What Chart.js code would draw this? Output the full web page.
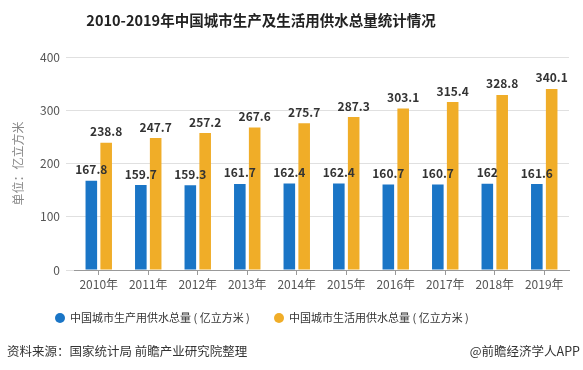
<!DOCTYPE html>
<html>
<head>
<meta charset="utf-8">
<script src="https://cdn.jsdelivr.net/npm/chart.js@4.4.1/dist/chart.umd.min.js"></script>
<style>
  html, body { margin: 0; padding: 0; background: #fff; }
  #wrap { width: 583px; height: 370px; position: relative; }
</style>
</head>
<body>
<div id="wrap"><canvas id="c" width="583" height="370"></canvas></div>
<script>
const years = ["2010年", "2011年", "2012年", "2013年", "2014年", "2015年", "2016年", "2017年", "2018年", "2019年"]
const production = [167.8, 159.7, 159.3, 161.7, 162.4, 162.4, 160.7, 160.7, 162, 161.6]
const domestic = [238.8, 247.7, 257.2, 267.6, 275.7, 287.3, 303.1, 315.4, 328.8, 340.1]
const yTicks = [0, 100, 200, 300, 400]

const seriesNames = ["中国城市生产用供水总量 ( 亿立方米 )", "中国城市生活用供水总量 ( 亿立方米 )"]
const colors = ["#1a75c6", "#f0ad28"]
const cjk = "'Noto Sans CJK SC', 'Noto Sans', sans-serif"

const extras = {
  id: "extras",
  afterDatasetsDraw(chart) {
    const ctx = chart.ctx
    ctx.save()
    // value labels above bars
    ctx.font = "bold 12px " + cjk
    ctx.fillStyle = "#333"
    ctx.textAlign = "center"
    ctx.textBaseline = "bottom"
    chart.data.datasets.forEach((ds, i) => {
      chart.getDatasetMeta(i).data.forEach((bar, j) => {
        ctx.fillText(String(ds.data[j]), bar.x, bar.y - 5)
      })
    })
    ctx.restore()
  },
  afterDraw(chart) {
    const ctx = chart.ctx
    ctx.save()
    // title
    ctx.font = "bold 14.5px " + cjk
    ctx.fillStyle = "#222"
    ctx.textAlign = "center"
    ctx.textBaseline = "middle"
    ctx.fillText("2010-2019年中国城市生产及生活用供水总量统计情况", 261, 20)

    // legend
    ctx.font = "11px " + cjk
    ctx.textAlign = "left"
    const legendX = [60, 279]
    chart.data.datasets.forEach((ds, i) => {
      ctx.fillStyle = ds.backgroundColor
      ctx.beginPath()
      ctx.arc(legendX[i], 318, 5, 0, Math.PI * 2)
      ctx.fill()
      ctx.fillStyle = "#333"
      ctx.fillText(ds.label, legendX[i] + 10, 318)
    })

    // footer
    ctx.font = "12.5px " + cjk
    ctx.fillStyle = "#333"
    ctx.fillText("资料来源：国家统计局 前瞻产业研究院整理", 7, 351)
    ctx.textAlign = "right"
    ctx.fillText("@前瞻经济学人APP", 580, 351)
    ctx.restore()
  },
}

new Chart(document.getElementById("c"), {
  type: "bar",
  data: {
    labels: years,
    datasets: [
      { label: seriesNames[0], data: production, backgroundColor: colors[0] },
      { label: seriesNames[1], data: domestic, backgroundColor: colors[1] },
    ],
  },
  options: {
    responsive: false,
    animation: false,
    layout: { padding: { top: 57, right: 14, bottom: 70, left: 0 } },
    datasets: {
      bar: { categoryPercentage: 0.6, barPercentage: 0.78 },
    },
    scales: {
      x: {
        grid: { display: true, drawOnChartArea: false, offset: false, tickLength: 5, color: "#999" },
        border: { color: "#999" },
        ticks: { color: "#555", font: { size: 12, family: cjk }, padding: 2, maxRotation: 0 },
        afterFit: (scale) => { scale.height = 30 },
      },
      y: {
        min: 0,
        max: 400,
        afterBuildTicks: (scale) => { scale.ticks = yTicks.map(v => ({ value: v })) },
        grid: { color: "#e0e0e0", tickLength: 8 },
        border: { display: false },
        ticks: { color: "#555", font: { size: 12, family: cjk }, padding: 6 },
        title: { display: true, text: "单位：亿立方米", color: "#888", font: { size: 12, family: cjk }, padding: { top: 11, bottom: 0 } },
        afterFit: (scale) => { scale.width = 74 },
      },
    },
    plugins: {
      legend: { display: false },
      tooltip: { enabled: false },
    },
  },
  plugins: [extras],
})
</script>
</body>
</html>
